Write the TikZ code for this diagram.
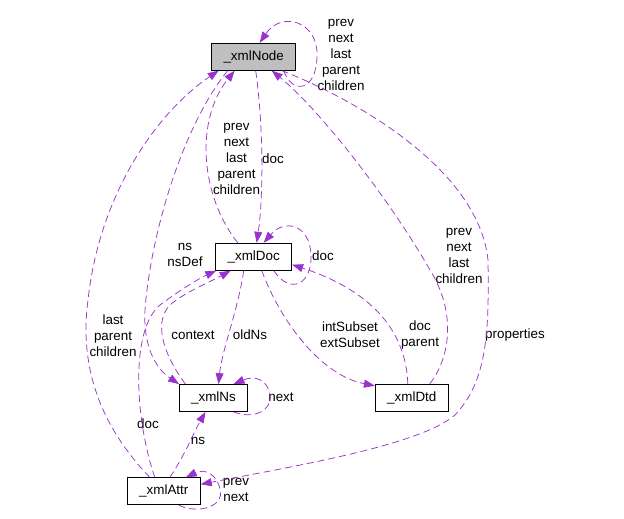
\documentclass[tikz,border=0pt]{standalone}
\usepackage{fontspec}
\setmainfont{Liberation Sans}
\usepackage{tikz}
\usetikzlibrary{arrows.meta}

\definecolor{edgepurple}{HTML}{9A32CD}
\definecolor{boxgray}{HTML}{BFBFBF}

\begin{document}
\begin{tikzpicture}[x=1pt, y=-1pt,
  cls/.style={draw, line width=0.8pt, inner sep=0pt, minimum height=27pt,
    font=\fontsize{13.4}{16}\selectfont},
  rel/.style={edgepurple, line width=0.75pt, dash pattern=on 7pt off 4pt,
    -{Triangle[length=11pt, width=8pt]}},
  lbl/.style={align=center, inner sep=0pt, font=\fontsize{13.4}{16}\selectfont}]

% Drawing window
\useasboundingbox (0,0) rectangle (624,519);

% Structs
\node[cls, fill=boxgray, minimum width=84pt] (xmlNode) at (253.7,56.7) {\_xmlNode};
\node[cls, minimum width=76pt] (xmlDoc) at (253.7,256.7) {\_xmlDoc};
\node[cls, minimum width=68pt] (xmlNs) at (213.5,398) {\_xmlNs};
\node[cls, minimum width=73pt] (xmlDtd) at (411.8,397.7) {\_xmlDtd};
\node[cls, minimum width=73pt] (xmlAttr) at (163.8,491.3) {\_xmlAttr};

% Labels
\node[lbl] (lNodeSelf) at (341,55) {prev\\next\\last\\parent\\children};
\node[lbl] (lNodeDoc) at (273,159) {doc};
\node[lbl] (lDocNode) at (236.5,159) {prev\\next\\last\\parent\\children};
\node[lbl] (lNsDef) at (185,255) {ns\\nsDef};
\node[lbl] (lDocSelf) at (323,256) {doc};
\node[lbl] (lAttrNode) at (113,336) {last\\parent\\children};
\node[lbl] (lContext) at (193,335) {context};
\node[lbl] (lOldNs) at (250,335) {oldNs};
\node[lbl] (lSubset) at (350,335) {intSubset\\extSubset};
\node[lbl] (lDtdDoc) at (420,335) {doc\\parent};
\node[lbl] (lDtdNode) at (459,256) {prev\\next\\last\\children};
\node[lbl] (lProps) at (515,335) {properties};
\node[lbl] (lNsSelf) at (281,397) {next};
\node[lbl] (lAttrDoc) at (148,424) {doc};
\node[lbl] (lAttrNs) at (198,441) {ns};
\node[lbl] (lAttrSelf) at (236,490) {prev\\next};

% _xmlNode
\draw[rel] ([xshift=30pt]xmlNode.south) .. controls (292,95) and (317,92) .. (317,55)
  .. controls (318,22) and (282,10) .. ([xshift=6pt]xmlNode.north);
\draw[rel] ([xshift=2pt]xmlNode.south) .. controls (264,130) and (263,200) .. ([xshift=3pt]xmlDoc.north);
\draw[rel] ([xshift=28pt]xmlNode.south) .. controls (345,95) and (478,165) .. (488,260)
  .. controls (489,330) and (488,380) .. (455,415)
  .. controls (420,445) and (300,465) .. ([yshift=7pt]xmlAttr.east);
\draw[rel] ([xshift=-26pt]xmlNode.south) .. controls (180,130) and (150,240) .. (145,310)
  .. controls (143,345) and (155,368) .. (xmlNs.north west);

% _xmlDoc
\draw[rel] ([xshift=-16pt]xmlDoc.north) .. controls (200,195) and (195,120) .. ([xshift=-19pt]xmlNode.south);
\draw[rel] ([xshift=20pt]xmlDoc.south) .. controls (290,295) and (312,285) .. (311,255)
  .. controls (310,225) and (285,218) .. ([xshift=10pt]xmlDoc.north);
\draw[rel] ([xshift=8pt]xmlDoc.south) .. controls (280,320) and (320,375) .. ([yshift=-2pt]xmlDtd.north west);
\draw[rel] ([xshift=-10pt]xmlDoc.south) .. controls (238,310) and (222,350) .. ([xshift=5pt]xmlNs.north);

% _xmlNs
\draw[rel] ([xshift=-28pt]xmlNs.north) .. controls (160,350) and (155,320) .. (170,305)
  .. controls (185,292) and (210,282) .. ([xshift=-23pt]xmlDoc.south);
\draw[rel] ([xshift=20pt]xmlNs.south) .. controls (255,420) and (272,410) .. (270,395)
  .. controls (268,380) and (255,375) .. ([xshift=20pt]xmlNs.north);

% _xmlDtd
\draw[rel] ([xshift=-4pt]xmlDtd.north) .. controls (406,330) and (370,290) .. ([yshift=-8pt]xmlDoc.east);
\draw[rel] ([xshift=18pt]xmlDtd.north) .. controls (452,355) and (455,310) .. (430,270)
  .. controls (390,200) and (320,110) .. ([xshift=18pt]xmlNode.south);

% _xmlAttr
\draw[rel] ([xshift=-9pt]xmlAttr.north) .. controls (135,420) and (130,330) .. (160,305)
  .. controls (180,290) and (200,278) .. ([xshift=1pt]xmlDoc.south west);
\draw[rel] ([xshift=-14pt]xmlAttr.north) .. controls (95,420) and (80,360) .. (88,300)
  .. controls (100,190) and (160,110) .. ([xshift=-35pt]xmlNode.south);
\draw[rel] ([xshift=6pt]xmlAttr.north) .. controls (185,455) and (195,430) .. ([xshift=-8pt]xmlNs.south);
\draw[rel] ([xshift=15pt]xmlAttr.south) .. controls (200,515) and (225,505) .. (220,490)
  .. controls (218,475) and (205,468) .. ([xshift=22pt]xmlAttr.north);

\end{tikzpicture}
\end{document}
